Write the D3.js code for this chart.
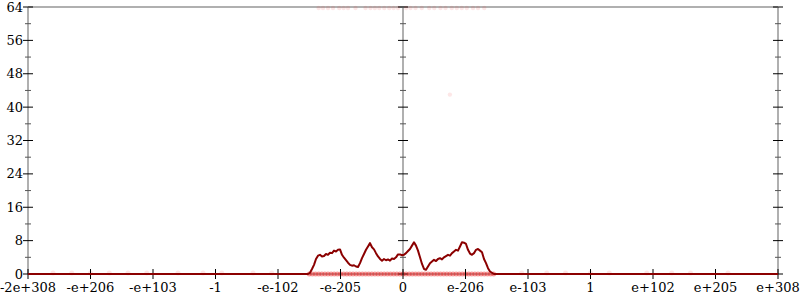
<!DOCTYPE html>
<html>
<head>
<meta charset="utf-8">
<script src="https://cdn.jsdelivr.net/npm/d3@7"></script>
<style>
  body { margin: 0; background: #fff; }
  svg text { font-family: "DejaVu Serif", serif; font-size: 13px; fill: #000; }
</style>
</head>
<body>
<div id="chart"></div>
<script>
// tick labels along the bottom (position index -6 .. 6)
var xTickLabels = ["-2e+308", "-e+206", "-e+103", "-1", "-e-102", "-e-205", "0",
  "e-206", "e-103", "1", "e+102", "e+205", "e+308"];
var yTicks = [0, 8, 16, 24, 32, 40, 48, 56, 64];

// histogram counts, regular bins starting at binStart
var binStart = -1.52, binWidth = 0.032;
var counts = [0, 0.3, 1.2, 2.2, 3.6, 4.4, 4.6, 4.2, 4.3, 4.8,
  4.6, 5.1, 5.0, 5.6, 5.4, 5.8, 5.9, 4.6, 3.9, 3.3,
  2.7, 2.2, 2.0, 2.1, 1.8, 1.7, 2.6, 3.8, 4.8, 5.8,
  6.6, 7.4, 6.4, 5.9, 5.0, 4.2, 3.6, 3.2, 3.6, 3.3,
  3.5, 3.2, 3.7, 3.6, 4.0, 4.7, 4.7, 4.5, 4.6, 5.0,
  5.5, 6.0, 6.8, 7.6, 6.8, 5.6, 4.0, 2.4, 1.2, 1.0,
  1.8, 2.6, 3.0, 3.4, 3.1, 3.6, 3.8, 3.5, 4.0, 4.3,
  4.6, 4.4, 5.0, 5.4, 5.8, 5.6, 6.6, 7.6, 7.5, 7.2,
  5.8, 4.9, 4.6, 5.0, 5.8, 6.0, 5.6, 5.2, 3.6, 2.6,
  1.4, 0.6, 0.3, 0];

// faint raw samples (position)
var sampleOuterX = [-5.6, -5.3, -5.0, -4.7, -4.4, -4.1, -3.6, -3.2, -2.9, -2.4, -2.1,
  1.9, 2.3, 2.6, 3.0, 3.3, 3.9, 4.3, 4.6, 5.2];
var sampleCenterX = [-1.5, -1.45, -1.4, -1.35, -1.3, -1.25, -1.2, -1.15, -1.1, -1.05,
  -1.0, -0.95, -0.9, -0.85, -0.8, -0.75, -0.7, -0.65, -0.6, -0.55, -0.5, -0.45, -0.4,
  -0.35, -0.3, -0.25, -0.2, -0.15, -0.1, -0.05, 0.0, 0.05, 0.1, 0.15, 0.2, 0.25, 0.3,
  0.35, 0.4, 0.45, 0.5, 0.55, 0.6, 0.65, 0.7, 0.75, 0.8, 0.85, 0.9, 0.95, 1.0, 1.05,
  1.1, 1.15, 1.2, 1.25, 1.3, 1.35, 1.4, 1.45];
var sampleTopX = [-1.35, -1.28, -1.2, -1.12, -1.02, -0.95, -0.88, -0.76, -0.6, -0.52,
  -0.45, -0.38, -0.3, -0.22, -0.15, -0.08, 0.05, 0.12, 0.2, 0.3, 0.42, 0.5, 0.6, 0.68,
  0.78, 0.86, 0.94, 1.02, 1.12, 1.2, 1.3];
var sampleMid = [[0.75, 43]];

var margin = { top: 7, right: 22, bottom: 26, left: 28 },
  width = 800, height = 300;

var svg = d3.select("#chart").append("svg")
  .attr("width", width).attr("height", height);

var x = d3.scaleLinear().domain([-6, 6]).range([margin.left, width - margin.right]);
var y = d3.scaleLinear().domain([0, 64]).range([height - margin.bottom, margin.top]);

var gray = "#b0b0b0";

// frame lines
svg.append("line").attr("x1", x(-6)).attr("x2", x(6)).attr("y1", y(64)).attr("y2", y(64))
  .attr("stroke", gray).attr("stroke-width", 2);
svg.append("line").attr("x1", x(-6)).attr("x2", x(6)).attr("y1", y(0)).attr("y2", y(0))
  .attr("stroke", gray).attr("stroke-width", 2);
[-6, 0, 6].forEach(function (p) {
  svg.append("line").attr("x1", x(p)).attr("x2", x(p)).attr("y1", y(0)).attr("y2", y(64))
    .attr("stroke", gray).attr("stroke-width", 2);
});

// y ticks (major + minor) on the three vertical axes
var minorY = d3.range(4, 64, 8);
[-6, 0, 6].forEach(function (p) {
  var g = svg.append("g");
  g.selectAll(".major").data(yTicks).join("line")
    .attr("x1", x(p) - 5).attr("x2", x(p) + 5)
    .attr("y1", d => y(d)).attr("y2", d => y(d))
    .attr("stroke", "#000").attr("stroke-width", 1);
  g.selectAll(".minor").data(minorY).join("line")
    .attr("x1", x(p) - 3).attr("x2", x(p) + 3)
    .attr("y1", d => y(d)).attr("y2", d => y(d))
    .attr("stroke", "#555").attr("stroke-width", 1);
});

svg.selectAll(".ylabel").data(yTicks).join("text")
  .attr("class", "ylabel")
  .attr("x", x(-6) - 5).attr("y", d => y(d))
  .attr("dy", "0.35em").attr("text-anchor", "end")
  .text(d => d);

// faint samples
var faint = "rgba(240,60,60,0.12)";
svg.selectAll(".so").data(sampleOuterX).join("circle")
  .attr("cx", d => x(d)).attr("cy", y(0) - 1).attr("r", 2.5).attr("fill", faint);
svg.selectAll(".sc").data(sampleCenterX).join("circle")
  .attr("cx", d => x(d)).attr("cy", y(0)).attr("r", 2.5).attr("fill", "rgba(235,40,40,0.45)");
svg.selectAll(".st").data(sampleTopX).join("circle")
  .attr("cx", d => x(d)).attr("cy", y(64) + 1).attr("r", 2.2).attr("fill", faint);
svg.selectAll(".sm").data(sampleMid).join("circle")
  .attr("cx", d => x(d[0])).attr("cy", d => y(d[1])).attr("r", 2.2).attr("fill", faint);

// x ticks
var xTickPos = d3.range(-6, 7);
svg.selectAll(".xtick").data(xTickPos).join("line")
  .attr("class", "xtick")
  .attr("x1", d => x(d)).attr("x2", d => x(d))
  .attr("y1", y(0) - 5).attr("y2", y(0) + 5)
  .attr("stroke", "#000").attr("stroke-width", 1);

// histogram line
var pts = [[-6, 0]];
counts.forEach(function (c, i) { pts.push([binStart + i * binWidth, c]); });
pts.push([6, 0]);

svg.append("path")
  .datum(pts)
  .attr("fill", "none")
  .attr("stroke", "#8b0000")
  .attr("stroke-width", 2)
  .attr("stroke-linejoin", "round")
  .attr("d", d3.line().x(d => x(d[0])).y(d => y(d[1])));

svg.selectAll(".xlabel").data(xTickLabels).join("text")
  .attr("class", "xlabel")
  .attr("x", (d, i) => x(xTickPos[i]))
  .attr("y", y(0) + 18)
  .attr("text-anchor", "middle")
  .text(d => d);
</script>
</body>
</html>
